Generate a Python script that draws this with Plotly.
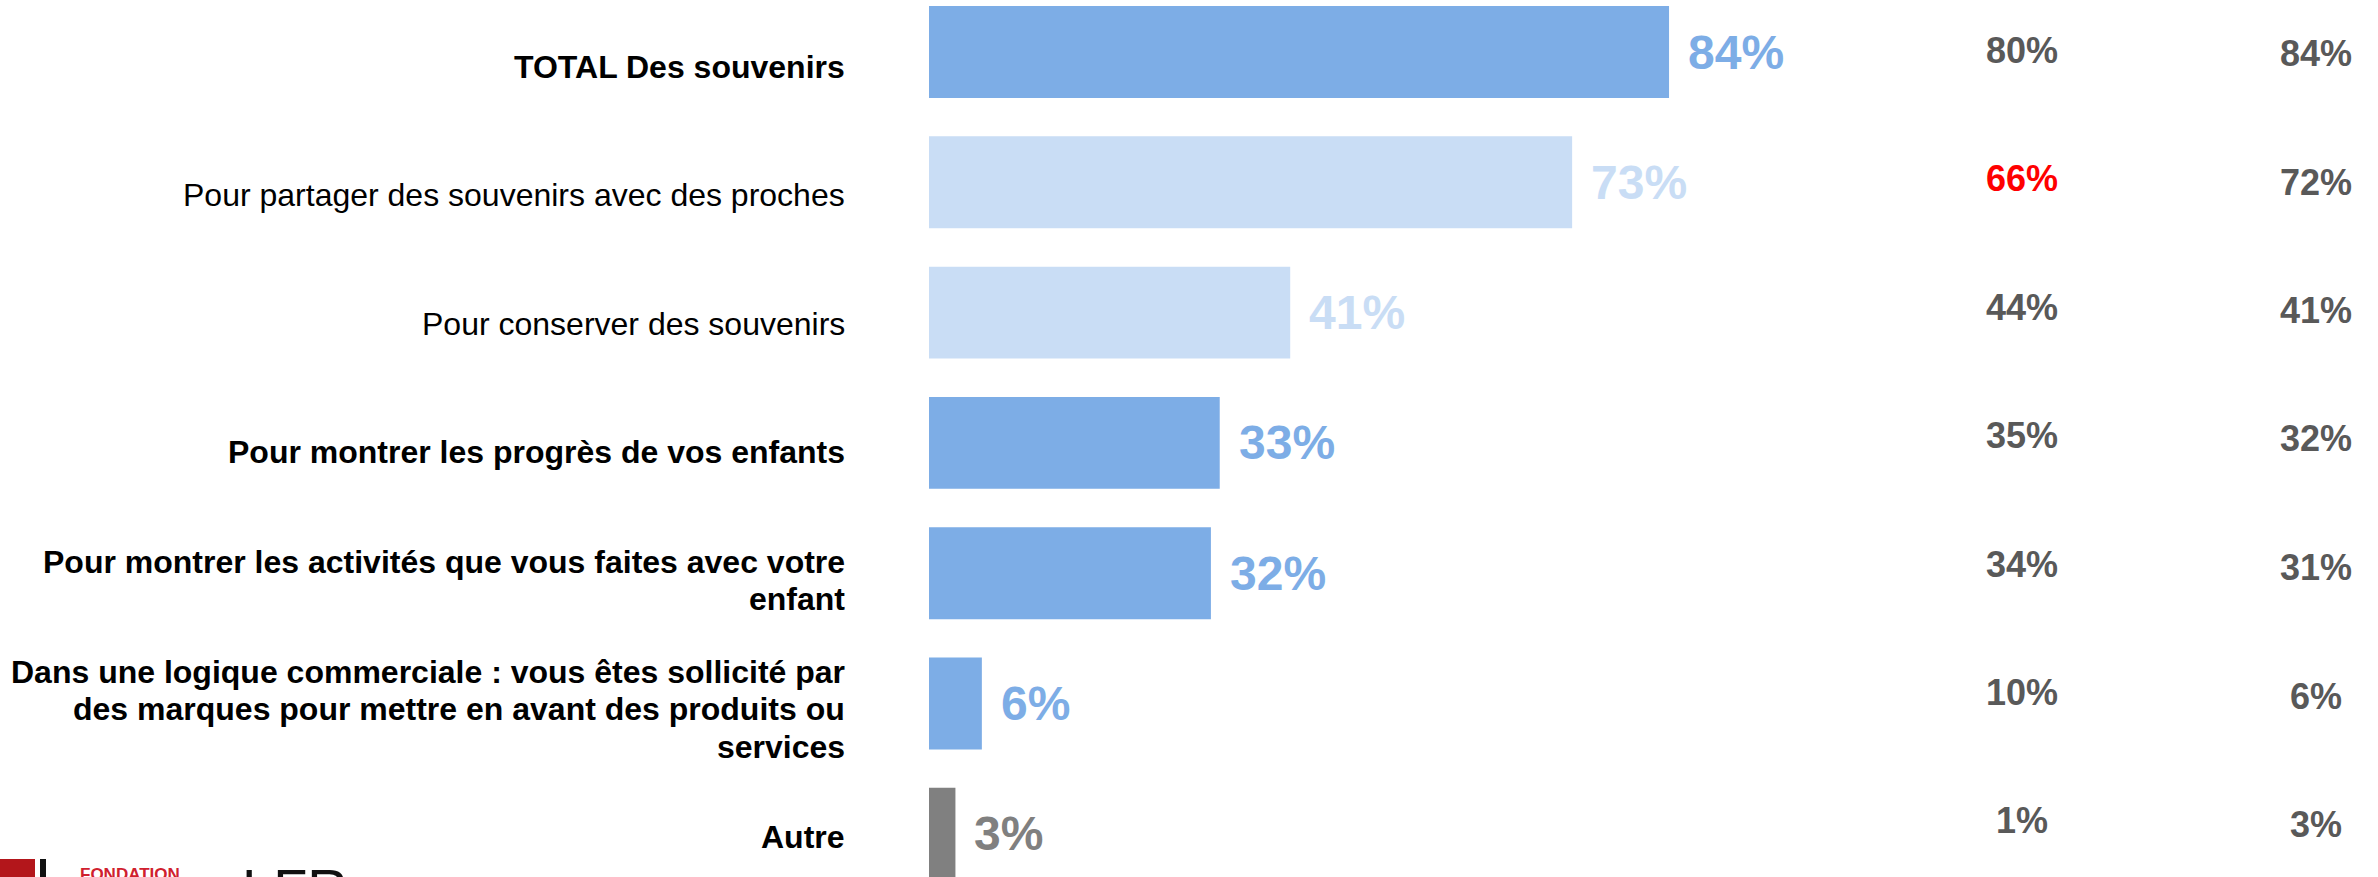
import plotly.graph_objects as go

# ---------------- data ----------------
categories = [
    "TOTAL Des souvenirs",
    "Pour partager des souvenirs avec des proches",
    "Pour conserver des souvenirs",
    "Pour montrer les progrès de vos enfants",
    "Pour montrer les activités que vous faites avec votre<br>enfant",
    "Dans une logique commerciale : vous êtes sollicité par<br>des marques pour mettre en avant des produits ou<br>services",
    "Autre",
]
values = [84, 73, 41, 33, 32, 6, 3]
col1_values = [80, 66, 44, 35, 34, 10, 1]
col2_values = [84, 72, 41, 32, 31, 6, 3]

# ---------------- styles ----------------
W, H = 2378, 877
FONT = "Liberation Sans, Arial, sans-serif"
DARK_BLUE = "#7DADE6"
LIGHT_BLUE = "#C9DDF5"
GREY_BAR = "#808080"
bar_colors = [DARK_BLUE, LIGHT_BLUE, LIGHT_BLUE, DARK_BLUE, DARK_BLUE, DARK_BLUE, GREY_BAR]
label_bold = [True, False, False, True, True, True, True]
col1_colors = ["#595959", "#FF0000", "#595959", "#595959", "#595959", "#595959", "#595959"]
COL_GREY = "#595959"

# pixel geometry -> axis ranges
x0_px = 929.0          # pixel where value 0 sits
px_per_unit = 8.81     # pixels per percentage point
y0_px = 52.0           # pixel centre of first bar
row_px = 130.3         # pixel spacing between bars

# text rows sit on slightly different grids than the bars
LABEL_Y0, LABEL_STEP, LINE_STEP = 66.5, 128.5, 37.5
COL1_Y0, COL2_Y0, COL_STEP = 50.0, 53.5, 128.5

x_range = [-x0_px / px_per_unit, (W - x0_px) / px_per_unit]
y_range = [(H - y0_px) / row_px, -y0_px / row_px]

idx = list(range(len(categories)))


def bar_px(i):
    return y0_px + row_px * i


fig = go.Figure()
fig.add_trace(go.Bar(
    x=values,
    y=idx,
    orientation="h",
    width=0.705,
    marker=dict(color=bar_colors, line=dict(width=0)),
    hoverinfo="skip",
))

annotations = []
# category labels (each line placed separately for tight line spacing)
for i, (cat, b) in enumerate(zip(categories, label_bold)):
    lines = cat.split("<br>")
    n = len(lines)
    for k, line in enumerate(lines):
        target = LABEL_Y0 + LABEL_STEP * i + (k - (n - 1) / 2) * LINE_STEP
        txt = f"<b>{line}</b>" if b else line
        annotations.append(dict(
            x=847 / W, xref="paper", y=i, yref="y",
            yshift=bar_px(i) - target,
            text=txt, showarrow=False, xanchor="right", yanchor="middle",
            align="right", font=dict(family=FONT, size=32, color="#000000"),
        ))
# bar value labels
for i, (v, c) in enumerate(zip(values, bar_colors)):
    annotations.append(dict(
        x=v, xref="x", y=i, yref="y", xshift=17,
        text=f"<b>{v}%</b>", showarrow=False, xanchor="left", yanchor="middle",
        font=dict(family=FONT, size=48, color=c),
    ))
# comparison columns
for i, (v, c) in enumerate(zip(col1_values, col1_colors)):
    annotations.append(dict(
        x=2022 / W, xref="paper", y=i, yref="y",
        yshift=bar_px(i) - (COL1_Y0 + COL_STEP * i),
        text=f"<b>{v}%</b>", showarrow=False, xanchor="center", yanchor="middle",
        font=dict(family=FONT, size=36, color=c),
    ))
for i, v in enumerate(col2_values):
    annotations.append(dict(
        x=2316 / W, xref="paper", y=i, yref="y",
        yshift=bar_px(i) - (COL2_Y0 + COL_STEP * i),
        text=f"<b>{v}%</b>", showarrow=False, xanchor="center", yanchor="middle",
        font=dict(family=FONT, size=36, color=COL_GREY),
    ))
# logo texts (cut off at bottom, as in the source)
annotations.append(dict(
    x=78 / W, xref="paper", y=1 - 863 / H, yref="paper",
    text="<b>FONDATION</b>", showarrow=False, xanchor="left", yanchor="top",
    font=dict(family=FONT, size=17, color="#D0202E"),
))
annotations.append(dict(
    x=240 / W, xref="paper", y=1 - 855 / H, yref="paper",
    text="LFR", showarrow=False, xanchor="left", yanchor="top",
    font=dict(family=FONT, size=56, color="#111111"),
))

shapes = [
    dict(type="rect", xref="paper", yref="paper",
         x0=0, x1=35 / W, y0=1 - 890 / H, y1=1 - 859 / H,
         fillcolor="#B3161B", line=dict(width=0), layer="above"),
    dict(type="rect", xref="paper", yref="paper",
         x0=40 / W, x1=46 / W, y0=1 - 890 / H, y1=1 - 859 / H,
         fillcolor="#111111", line=dict(width=0), layer="above"),
]

fig.update_layout(
    width=W, height=H,
    margin=dict(l=0, r=0, t=0, b=0, pad=0),
    paper_bgcolor="white", plot_bgcolor="white",
    showlegend=False,
    xaxis=dict(range=x_range, visible=False, fixedrange=True),
    yaxis=dict(range=y_range, visible=False, fixedrange=True),
    annotations=annotations,
    shapes=shapes,
    font=dict(family=FONT),
)

fig.write_html(
    "out.html",
    config={"displayModeBar": False},
    post_script="document.body.style.margin='0px';document.body.style.overflow='hidden';",
)
